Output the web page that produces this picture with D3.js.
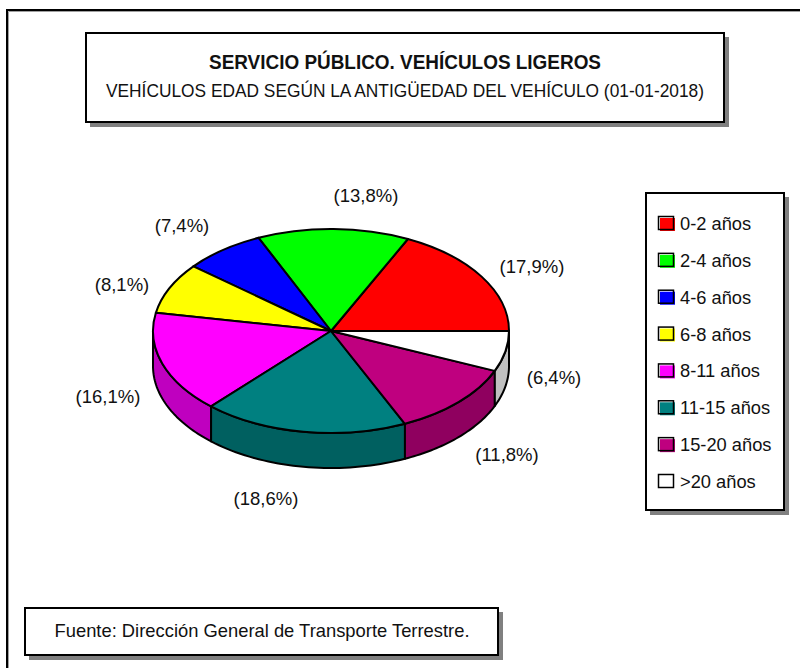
<!DOCTYPE html>
<html lang="es">
<head>
<meta charset="UTF-8">
<title>Servicio público. Vehículos ligeros</title>
<script src="https://d3js.org/d3.v7.min.js"></script>
<style>
    body { margin: 0; background: #fff; }
    svg { display: block; }
    text { font-family: "Liberation Sans", Arial, sans-serif; fill: #111; }
</style>
</head>
<body>
<svg width="800" height="668"></svg>
<script>
// data
const categories = ['0-2 años', '2-4 años', '4-6 años', '6-8 años', '8-11 años', '11-15 años', '15-20 años', '>20 años'];
const shares = [17.9, 13.8, 7.4, 8.1, 16.1, 18.6, 11.8, 6.4];
const topColors = ['#ff0000', '#00ff00', '#0000ff', '#ffff00', '#ff00ff', '#008080', '#bf007f', '#ffffff'];
const sideColors = ['#c00000', '#00c000', '#0000c0', '#c0c000', '#bf00bf', '#006060', '#8f005f', '#c0c0c0'];
const shareLabels = ['(17,9%)', '(13,8%)', '(7,4%)', '(8,1%)', '(16,1%)', '(18,6%)', '(11,8%)', '(6,4%)'];

// layout
const cx = 331, cy = 331, rx = 178, ry = 102, depth = 35;
const labelSpots = [[532, 267], [366, 196], [182, 226], [122, 285], [108, 397], [266, 499], [507, 455], [554, 378]];

const svg = d3.select('svg');

// box with the offset grey shadow used by title, legend and source
function box(x, y, w, h) {
    svg.append('rect').attr('x', x + 4).attr('y', y + 4).attr('width', w + 1).attr('height', h + 1).attr('fill', '#808080');
    svg.append('rect').attr('x', x).attr('y', y).attr('width', w).attr('height', h)
        .attr('fill', '#fff').attr('stroke', '#000').attr('stroke-width', 2);
}

// page frame, runs off the right and bottom edges
svg.append('path').attr('d', 'M8.5,668V11.5H800').attr('fill', 'none').attr('stroke', '#a0a0a0').attr('stroke-width', 1);
svg.append('path').attr('d', 'M7,668V10H800').attr('fill', 'none').attr('stroke', '#000').attr('stroke-width', 2);

// title
box(86, 33, 638, 89);
svg.append('text').attr('x', 405).attr('y', 69).attr('text-anchor', 'middle')
    .attr('font-size', 20).attr('font-weight', 'bold').attr('textLength', 392).attr('lengthAdjust', 'spacingAndGlyphs')
    .text('SERVICIO PÚBLICO. VEHÍCULOS LIGEROS');
svg.append('text').attr('x', 405).attr('y', 97).attr('text-anchor', 'middle')
    .attr('font-size', 18.5).attr('textLength', 598).attr('lengthAdjust', 'spacingAndGlyphs')
    .text('VEHÍCULOS EDAD SEGÚN LA ANTIGÜEDAD DEL VEHÍCULO (01-01-2018)');

// pie: counterclockwise from 3 o'clock, d3 measures from 12 o'clock clockwise
const pie = d3.pie().sort(null).startAngle(Math.PI / 2).endAngle(Math.PI / 2 - 2 * Math.PI);
const slices = pie(shares);
const arc = d3.arc().innerRadius(0).outerRadius(1);
const edgeX = a => cx + rx * Math.sin(a);
const edgeY = a => cy - ry * Math.cos(a);
const line = d3.line();

// visible rim is the lower half of the ellipse, from 9 o'clock round to 3 o'clock
const rim = svg.append('g');
slices.forEach((s, i) => {
    const a0 = Math.min(s.startAngle, -Math.PI / 2);
    const a1 = Math.max(s.endAngle, -3 * Math.PI / 2);
    if (a0 <= a1) return;
    const angles = d3.range(0, 41).map(k => a0 + (a1 - a0) * k / 40);
    const top = angles.map(a => [edgeX(a), edgeY(a)]);
    const bottom = angles.slice().reverse().map(a => [edgeX(a), edgeY(a) + depth]);
    rim.append('path').attr('d', line(top.concat(bottom)) + 'Z')
        .attr('fill', sideColors[i]).attr('stroke', '#000').attr('stroke-width', 2).attr('stroke-linejoin', 'round');
});

svg.append('g').attr('transform', `translate(${cx},${cy}) scale(${rx},${ry})`)
    .selectAll('path')
    .data(slices)
    .enter().append('path')
    .attr('d', arc)
    .attr('fill', (d, i) => topColors[i])
    .attr('stroke', '#000')
    .attr('stroke-width', 2)
    .attr('stroke-linejoin', 'round')
    .attr('vector-effect', 'non-scaling-stroke');

svg.selectAll('text.share')
    .data(shareLabels)
    .enter().append('text')
    .attr('class', 'share')
    .attr('x', (d, i) => labelSpots[i][0])
    .attr('y', (d, i) => labelSpots[i][1] + 6)
    .attr('text-anchor', 'middle')
    .attr('font-size', 18.5)
    .text(d => d);

// legend
box(646, 193, 138, 317);
const legendY = d3.scalePoint().domain(categories).range([224, 482]);
const rows = svg.selectAll('g.row')
    .data(categories)
    .enter().append('g')
    .attr('class', 'row')
    .attr('transform', d => `translate(658,${legendY(d)})`);
rows.append('rect').attr('x', 2).attr('y', -6).attr('width', 15).attr('height', 13)
    .attr('fill', (d, i) => topColors[i]);
rows.append('rect').attr('x', 0.5).attr('y', -7.5).attr('width', 15).attr('height', 13)
    .attr('fill', 'none').attr('stroke', '#000').attr('stroke-width', 1.5);
rows.append('text').attr('x', 22).attr('y', 6).attr('font-size', 18.3).text(d => d);

// source
box(25, 608, 473, 47);
svg.append('text').attr('x', 262).attr('y', 637).attr('text-anchor', 'middle')
    .attr('font-size', 18.5).attr('textLength', 415).attr('lengthAdjust', 'spacingAndGlyphs')
    .text('Fuente: Dirección General de Transporte Terrestre.');
</script>
</body>
</html>
